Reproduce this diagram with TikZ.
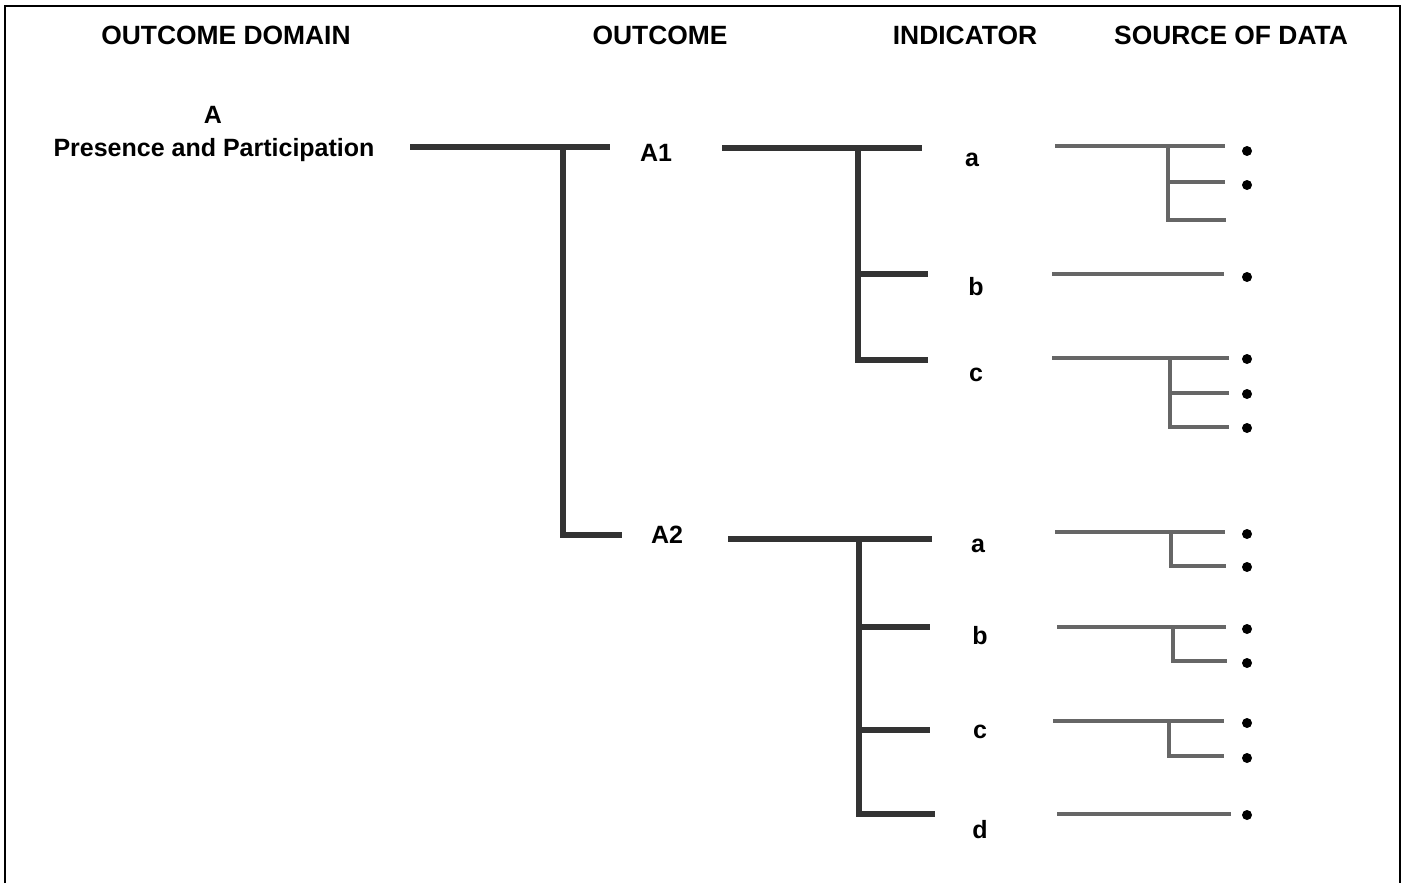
\documentclass[tikz,border=0pt]{standalone}
\usepackage{fontspec}
\setmainfont{Liberation Sans}
\usetikzlibrary{positioning}

\begin{document}
\begin{tikzpicture}[
  x=0.5pt, y=-0.5pt,
  font=\fontsize{12.5}{15}\selectfont\bfseries,
  hdr/.style={inner sep=0pt, anchor=base, font=\fontsize{13.2}{15}\selectfont\bfseries},
  lbl/.style={inner sep=0pt, anchor=base},
  stem/.style={draw=black!80, line width=2.6pt},
  src/.style={draw=black!60, line width=2.2pt},
  dot/.style={circle, fill=black, inner sep=0pt, minimum size=5pt},
]
\useasboundingbox (0,0) rectangle (1406,883);
% frame, open at the bottom
\draw[line width=0.8pt] (5,883) -- (5,6) -- (1400,6) -- (1400,883);
% column headings
\node[hdr] (hdomain)  at (226,45) {OUTCOME DOMAIN};
\node[hdr] (houtcome) at (660,45) {OUTCOME};
\node[hdr] (hind)     at (965,45) {INDICATOR};
\node[hdr] (hsrc)     at (1231,45) {SOURCE OF DATA};
% domain
\node[lbl] (dA)    at (213,123) {A};
\node[lbl] (dname) at (214,156) {Presence and Participation};
% outcomes
\node[lbl] (oA1) at (656,161) {A1};
\node[lbl] (oA2) at (667,543) {A2};
\draw[stem] (410,147) -- (610,147);
\draw[stem] (563,147) |- (622,535);
% indicators of A1
\node[lbl] (i1a) at (972,166) {a};
\node[lbl] (i1b) at (976,295) {b};
\node[lbl] (i1c) at (976,381) {c};
\draw[stem] (722,148) -- (922,148);
\draw[stem] (858,148) |- (928,360);
\draw[stem] (858,274) -- (928,274);
% indicators of A2
\node[lbl] (i2a) at (978,552) {a};
\node[lbl] (i2b) at (980,644) {b};
\node[lbl] (i2c) at (980,738) {c};
\node[lbl] (i2d) at (980,838) {d};
\draw[stem] (728,539) -- (932,539);
\draw[stem] (859,539) |- (935,814);
\draw[stem] (859,627) -- (930,627);
\draw[stem] (859,730) -- (930,730);
% sources of data, A1
\draw[src] (1055,146) -- (1225,146);
\draw[src] (1168,146) |- (1226,220);
\draw[src] (1168,182) -- (1225,182);
\draw[src] (1052,274) -- (1224,274);
\draw[src] (1052,358) -- (1229,358);
\draw[src] (1170,358) |- (1229,427);
\draw[src] (1170,393) -- (1229,393);
% sources of data, A2
\draw[src] (1055,532) -- (1225,532);
\draw[src] (1171,532) |- (1226,566);
\draw[src] (1057,627) -- (1226,627);
\draw[src] (1173,627) |- (1227,661);
\draw[src] (1053,721) -- (1224,721);
\draw[src] (1169,721) |- (1224,756);
\draw[src] (1057,814) -- (1231,814);
% bullets
\foreach \y [count=\i] in {151,185,277,359,394,428,534,567,629,663,723,758,815}
  \node[dot] (b\i) at (1247,\y) {};
\end{tikzpicture}
\end{document}
